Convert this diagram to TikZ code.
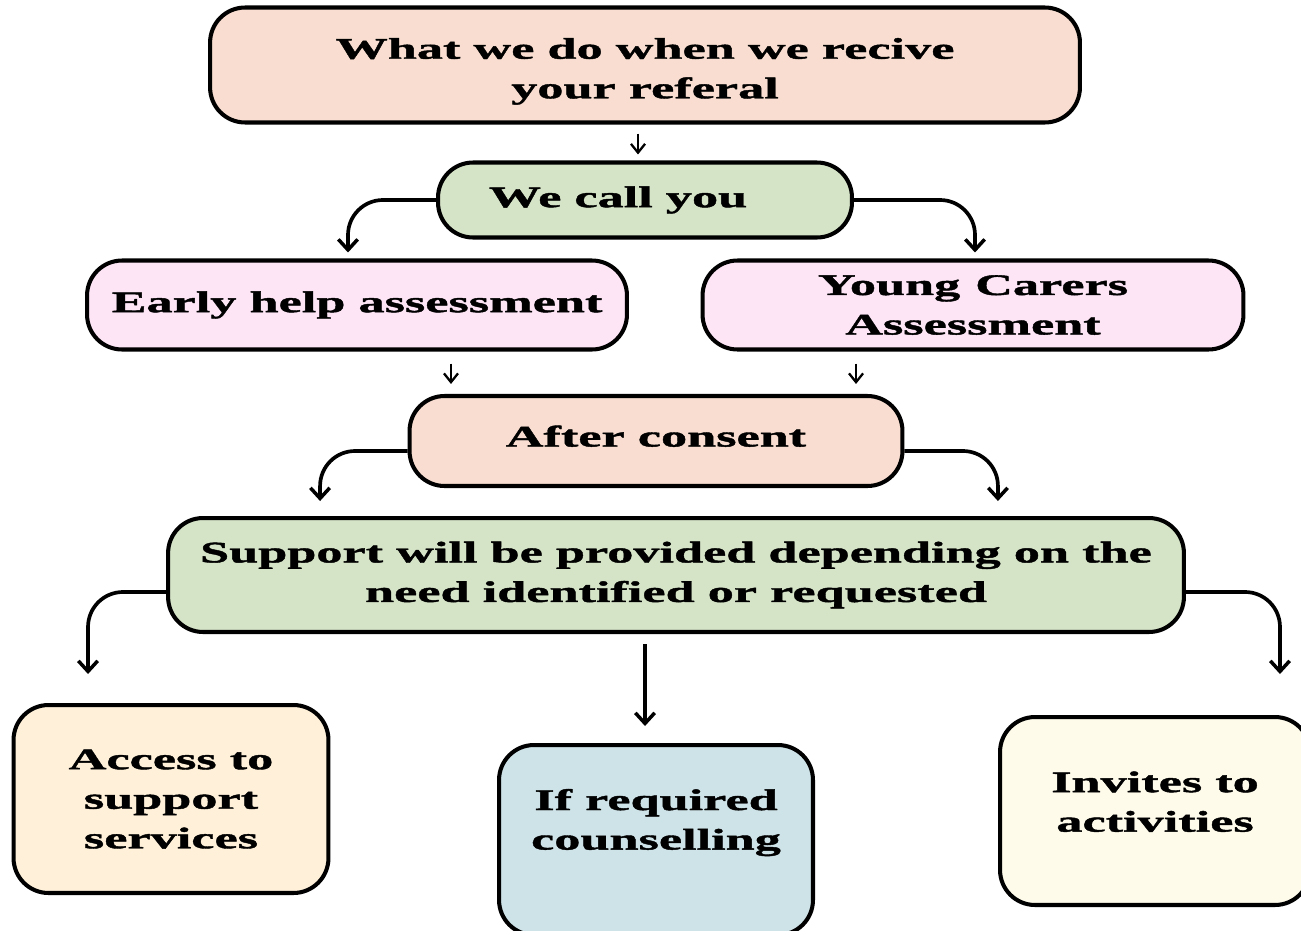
\documentclass[tikz,border=0pt]{standalone}
\usepackage{fontspec}
\usepackage{tikz}
\usetikzlibrary{arrows.meta, positioning}
\newfontfamily\flowfont{Liberation Serif}[FakeStretch=1.75, FakeBold=1.4]
\definecolor{peachbox}{HTML}{F8DDD0}
\definecolor{greenbox}{HTML}{D5E4C7}
\definecolor{pinkbox}{HTML}{FDE5F6}
\definecolor{creambox}{HTML}{FEF0D9}
\definecolor{bluebox}{HTML}{CEE3E8}
\definecolor{ivorybox}{HTML}{FEFBEB}

\begin{document}
\begin{tikzpicture}[
  x=0.02cm, y=-0.02cm,
  box/.style={
    rectangle, rounded corners=0.7cm, draw=black, line width=2.3pt,
    align=center, inner sep=0pt,
    font=\flowfont\bfseries\fontsize{17}{22.5}\selectfont
  },
  link/.style={-{Straight Barb[length=6pt, width=11pt, line width=2pt]},
    line width=2.1pt, rounded corners=0.7cm},
  nudge/.style={-{Straight Barb[length=5pt, width=8pt, line width=1.3pt]},
    line width=1.3pt}
]
  \clip (0,0) rectangle (1301,930);

  \node[box, fill=peachbox, minimum width=17.4cm, minimum height=2.3cm, text height=1.46cm] (referral) at (645,65)
    {What we do when we recive\\your referal};
  \node[box, fill=greenbox, minimum width=8.28cm, minimum height=1.5cm] (call) at (645,200)
    {We call you\hspace*{1.08cm}};
  \node[box, fill=pinkbox, minimum width=10.8cm, minimum height=1.78cm] (early) at (357,305)
    {Early help assessment};
  \node[box, fill=pinkbox, minimum width=10.82cm, minimum height=1.78cm] (carers) at (973,305)
    {Young\enspace Carers\\Assessment};
  \node[box, fill=peachbox, minimum width=9.86cm, minimum height=1.8cm, text depth=0.2cm] (consent) at (656,441)
    {After consent};
  \node[box, fill=greenbox, minimum width=20.32cm, minimum height=2.28cm] (support) at (676,575)
    {Support will be provided depending on the\\need identified or requested};
  \node[box, fill=creambox, minimum width=6.3cm, minimum height=3.76cm] (access) at (171,799)
    {Access to\\support\\services};
  \node[box, fill=bluebox, minimum width=6.28cm, minimum height=3.8cm, text depth=0.83cm] (counsel) at (656,840)
    {If required\\counselling};
  \node[box, fill=ivorybox, minimum width=6.2cm, minimum height=3.76cm, text depth=0.38cm] (invites) at (1155,811)
    {Invites to\\activities};

  \draw[nudge, shorten <=0.18cm, shorten >=0.12cm] ([xshift=-0.14cm]referral.south) -- ([xshift=-0.14cm]referral.south |- call.north);
  \draw[link, shorten >=0.12cm] (call.west) -| ([xshift=-0.18cm]early.north);
  \draw[link, shorten >=0.12cm] (call.east) -| ([xshift=0.04cm]carers.north);

  \draw[nudge, shorten <=0.24cm, shorten >=0.2cm] ([xshift=1.88cm]early.south) -- ([xshift=1.88cm]early.south |- consent.north);
  \draw[nudge, shorten <=0.24cm, shorten >=0.2cm] ([xshift=-2.34cm]carers.south) -- ([xshift=-2.34cm]carers.south |- consent.north);
  \draw[link, shorten >=0.3cm] ([yshift=-0.2cm]consent.west) -| ([xshift=-7.12cm]support.north);
  \draw[link, shorten >=0.3cm] ([yshift=-0.2cm]consent.east) -| ([xshift=6.44cm]support.north);

  \draw[link, shorten >=0.58cm] ([yshift=-0.34cm]support.west) -| ([xshift=-1.66cm]access.north);
  \draw[link, shorten >=0.82cm] ([yshift=-0.34cm]support.east) -| ([xshift=2.5cm]invites.north);
  \draw[link, shorten <=0.2cm, shorten >=0.34cm] ([xshift=-0.62cm]support.south) -- ([xshift=-0.62cm]support.south |- counsel.north);
\end{tikzpicture}
\end{document}
